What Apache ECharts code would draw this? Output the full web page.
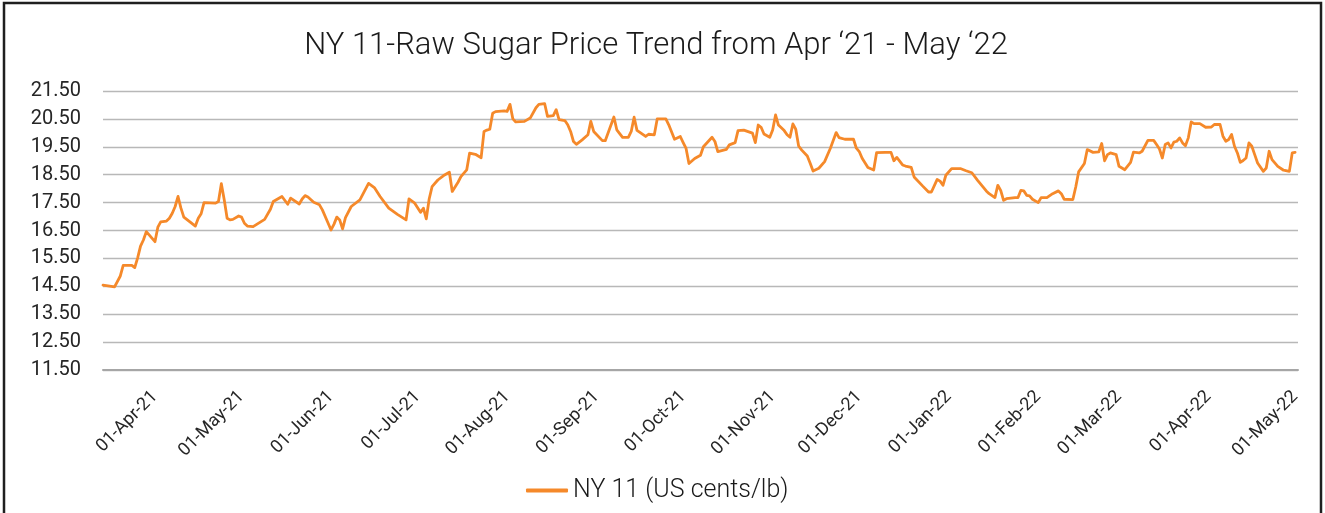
<!DOCTYPE html>
<html>
<head>
<meta charset="utf-8">
<title>NY 11-Raw Sugar Price Trend</title>
<script src="https://cdn.jsdelivr.net/npm/echarts@6/dist/echarts.min.js"></script>
<style>
html,body{margin:0;padding:0;background:#fff;}
#chart{width:1325px;height:513px;}
</style>
</head>
<body>
<div id="chart"></div>
<script>
// daily settlement (US cents/lb)
var dates = [
  '2021-03-14','2021-03-18','2021-03-20','2021-03-21','2021-03-24','2021-03-25','2021-03-26','2021-03-27','2021-03-28','2021-03-29',
  '2021-04-01','2021-04-02','2021-04-03','2021-04-05','2021-04-06','2021-04-07','2021-04-08','2021-04-09','2021-04-10','2021-04-11',
  '2021-04-15','2021-04-16','2021-04-17','2021-04-18','2021-04-22','2021-04-23','2021-04-24','2021-04-25','2021-04-26','2021-04-27',
  '2021-04-28','2021-04-30','2021-05-01','2021-05-02','2021-05-03','2021-05-05','2021-05-09','2021-05-11','2021-05-12','2021-05-15',
  '2021-05-17','2021-05-18','2021-05-21','2021-05-22','2021-05-23','2021-05-24','2021-05-26','2021-05-28','2021-05-29','2021-05-31',
  '2021-06-01','2021-06-02','2021-06-03','2021-06-04','2021-06-05','2021-06-06','2021-06-08','2021-06-11','2021-06-14','2021-06-16',
  '2021-06-18','2021-06-21','2021-06-24','2021-06-27','2021-06-28','2021-06-30','2021-07-02','2021-07-03','2021-07-04','2021-07-05',
  '2021-07-06','2021-07-08','2021-07-10','2021-07-12','2021-07-13','2021-07-15','2021-07-16','2021-07-18','2021-07-19','2021-07-21',
  '2021-07-23','2021-07-24','2021-07-25','2021-07-26','2021-07-27','2021-07-28','2021-07-31','2021-08-01','2021-08-02','2021-08-03',
  '2021-08-04','2021-08-07','2021-08-09','2021-08-11','2021-08-12','2021-08-14','2021-08-15','2021-08-17','2021-08-18','2021-08-19',
  '2021-08-21','2021-08-22','2021-08-23','2021-08-24','2021-08-25','2021-08-27','2021-08-29','2021-08-30','2021-08-31','2021-09-03',
  '2021-09-04','2021-09-07','2021-09-08','2021-09-10','2021-09-12','2021-09-13','2021-09-14','2021-09-15','2021-09-18','2021-09-19',
  '2021-09-21','2021-09-22','2021-09-24','2021-09-25','2021-09-26','2021-09-28','2021-09-30','2021-10-01','2021-10-02','2021-10-03',
  '2021-10-05','2021-10-07','2021-10-08','2021-10-11','2021-10-12','2021-10-13','2021-10-16','2021-10-17','2021-10-19','2021-10-20',
  '2021-10-22','2021-10-25','2021-10-26','2021-10-27','2021-10-28','2021-10-29','2021-10-31','2021-11-01','2021-11-02','2021-11-03',
  '2021-11-05','2021-11-06','2021-11-07','2021-11-08','2021-11-09','2021-11-10','2021-11-11','2021-11-13','2021-11-14','2021-11-15',
  '2021-11-17','2021-11-19','2021-11-21','2021-11-23','2021-11-24','2021-11-26','2021-11-29','2021-11-30','2021-12-01','2021-12-02',
  '2021-12-04','2021-12-06','2021-12-07','2021-12-10','2021-12-12','2021-12-13','2021-12-14','2021-12-16','2021-12-17','2021-12-19',
  '2021-12-20','2021-12-23','2021-12-25','2021-12-26','2021-12-28','2021-12-29','2021-12-30','2021-12-31','2022-01-02','2022-01-05',
  '2022-01-07','2022-01-09','2022-01-11','2022-01-14','2022-01-15','2022-01-17','2022-01-18','2022-01-19','2022-01-20','2022-01-21',
  '2022-01-24','2022-01-25','2022-01-26','2022-01-27','2022-01-28','2022-01-29','2022-01-30','2022-02-01','2022-02-02','2022-02-04',
  '2022-02-06','2022-02-08','2022-02-09','2022-02-10','2022-02-13','2022-02-14','2022-02-15','2022-02-17','2022-02-18','2022-02-20',
  '2022-02-22','2022-02-23','2022-02-24','2022-02-25','2022-02-26','2022-02-28','2022-03-01','2022-03-03','2022-03-05','2022-03-06',
  '2022-03-08','2022-03-09','2022-03-11','2022-03-13','2022-03-14','2022-03-15','2022-03-16','2022-03-17','2022-03-18','2022-03-19',
  '2022-03-20','2022-03-21','2022-03-22','2022-03-23','2022-03-24','2022-03-25','2022-03-26','2022-03-27','2022-03-29','2022-03-31',
  '2022-04-02','2022-04-03','2022-04-05','2022-04-06','2022-04-07','2022-04-08','2022-04-09','2022-04-10','2022-04-11','2022-04-12',
  '2022-04-13','2022-04-14','2022-04-15','2022-04-16','2022-04-17','2022-04-18','2022-04-20','2022-04-21','2022-04-22','2022-04-23',
  '2022-04-25','2022-04-27','2022-04-29','2022-04-30','2022-05-01'
];
var prices = [
  14.54,14.48,14.87,15.25,15.25,15.17,15.52,15.94,16.16,16.46,
  16.10,16.62,16.81,16.84,16.94,17.12,17.36,17.72,17.30,16.98,
  16.66,16.94,17.10,17.50,17.48,17.54,18.18,17.60,16.94,16.88,
  16.90,17.02,16.98,16.76,16.66,16.64,16.90,17.26,17.54,17.72,
  17.44,17.66,17.45,17.63,17.75,17.70,17.51,17.42,17.24,16.76,
  16.52,16.72,16.98,16.88,16.56,16.96,17.36,17.60,18.19,18.04,
  17.72,17.30,17.08,16.88,17.63,17.48,17.15,17.30,16.92,17.63,
  18.07,18.31,18.47,18.59,17.90,18.23,18.43,18.67,19.27,19.23,
  19.11,20.05,20.10,20.13,20.70,20.76,20.79,20.77,21.02,20.50,
  20.39,20.41,20.53,20.90,21.02,21.05,20.59,20.62,20.83,20.47,
  20.44,20.29,20.05,19.69,19.59,19.75,19.93,20.41,20.05,19.72,
  19.72,20.57,20.11,19.84,19.84,20.05,20.56,20.09,19.87,19.95,
  19.93,20.50,20.50,20.50,20.29,19.77,19.87,19.65,19.44,18.90,
  19.08,19.20,19.50,19.84,19.69,19.33,19.41,19.57,19.65,20.08,
  20.10,19.99,19.65,20.28,20.20,19.96,19.84,20.10,20.64,20.28,
  20.08,19.93,19.84,20.32,20.13,19.53,19.39,19.17,18.91,18.63,
  18.73,18.97,19.45,20.01,19.83,19.77,19.77,19.45,19.33,19.09,
  18.76,18.67,19.29,19.30,19.30,19.00,19.12,18.85,18.81,18.76,
  18.42,18.09,17.88,17.88,18.33,18.27,18.12,18.48,18.72,18.72,
  18.64,18.57,18.30,17.92,17.82,17.68,18.12,17.94,17.58,17.64,
  17.68,17.68,17.94,17.92,17.76,17.74,17.62,17.50,17.68,17.68,
  17.82,17.92,17.82,17.62,17.61,18.06,18.60,18.90,19.40,19.30,
  19.32,19.62,19.00,19.22,19.28,19.22,18.80,18.68,18.94,19.31,
  19.28,19.34,19.73,19.73,19.58,19.42,19.10,19.58,19.64,19.46,
  19.67,19.70,19.82,19.64,19.54,19.82,20.39,20.33,20.33,20.20,
  20.21,20.30,20.30,19.88,19.70,19.76,19.94,19.52,19.28,18.94,
  19.01,19.10,19.64,19.52,19.22,18.92,18.62,18.74,19.34,19.04,
  18.80,18.66,18.62,19.28,19.30
];
var axisStart = '2021-03-14';
var axisEnd = '2022-05-02';
var yMin = 11.5, yMax = 21.5, yStep = 1;
var monthNames = ['Jan','Feb','Mar','Apr','May','Jun','Jul','Aug','Sep','Oct','Nov','Dec'];

var seriesData = dates.map(function (d, i) { return [d, prices[i]]; });

var FONT = "Roboto, 'Liberation Sans', sans-serif";
var ORANGE = '#f5892a';
var chart = echarts.init(document.getElementById('chart'));
chart.setOption({
  animation: false,
  backgroundColor: '#fff',
  title: {
    text: 'NY 11-Raw Sugar Price Trend from Apr \u201821 - May \u201822',
    left: 651,
    textAlign: 'center',
    top: 26,
    textStyle: {fontFamily: FONT, fontWeight: 300, fontSize: 31, color: '#1a1a1a'}
  },
  legend: {
    bottom: 5,
    left: 521,
    icon: 'roundRect',
    itemWidth: 42,
    itemHeight: 4,
    itemGap: 10,
    textStyle: {fontFamily: FONT, fontWeight: 300, fontSize: 25, color: '#1a1a1a'}
  },
  grid: {left: 103, right: 27, top: 91, bottom: 143},
  xAxis: {
    type: 'time',
    min: axisStart,
    max: axisEnd,
    splitNumber: 14,
    axisLine: {lineStyle: {color: '#a6a6a6', width: 2}},
    axisTick: {show: false},
    splitLine: {show: false},
    axisLabel: {
      rotate: 45,
      margin: 24,
      fontFamily: FONT,
      fontSize: 18,
      color: '#262626',
      showMinLabel: false,
      showMaxLabel: false,
      formatter: function (v) {
        var d = new Date(v);
        if (d.getDate() !== 1) return '';
        return '01-' + monthNames[d.getMonth()] + '-' + String(d.getFullYear()).slice(2);
      }
    }
  },
  yAxis: {
    type: 'value',
    min: yMin,
    max: yMax,
    interval: yStep,
    axisLine: {show: false},
    axisTick: {show: false},
    splitLine: {lineStyle: {color: '#b8b8b8', width: 1.3}},
    axisLabel: {
      margin: 22,
      fontFamily: FONT,
      fontSize: 20,
      color: '#262626',
      formatter: function (v) { return v.toFixed(2); }
    }
  },
  series: [{
    name: 'NY 11 (US cents/lb)',
    type: 'line',
    data: seriesData,
    symbol: 'none',
    lineStyle: {color: ORANGE, width: 2.8, cap: 'round', join: 'round'},
    itemStyle: {color: ORANGE}
  }],
  graphic: [{
    type: 'rect',
    shape: {x: 4, y: 3, width: 1317, height: 540},
    style: {fill: 'none', stroke: '#1f1f1f', lineWidth: 2.5},
    silent: true
  }]
});
</script>
</body>
</html>
